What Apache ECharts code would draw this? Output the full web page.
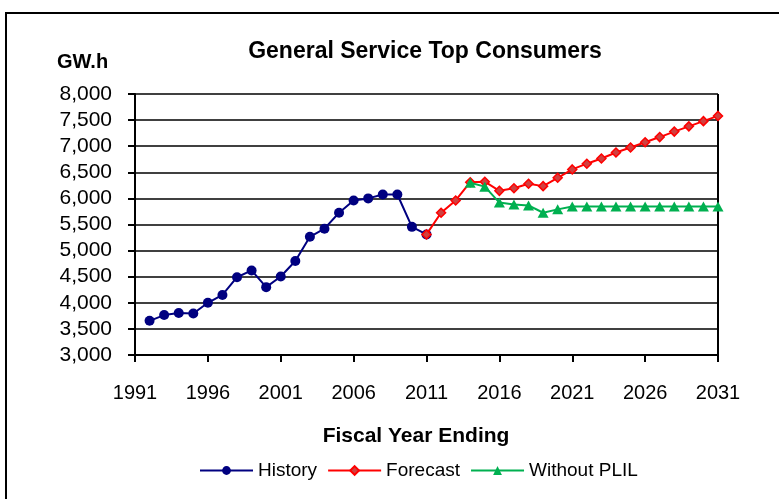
<!DOCTYPE html>
<html>
<head>
<meta charset="utf-8">
<script src="https://cdn.jsdelivr.net/npm/echarts@6/dist/echarts.min.js"></script>
<style>
html, body { margin: 0; padding: 0; background: #fff; overflow: hidden; }
#frame { position: absolute; left: 5px; top: 12px; width: 800px; height: 520px; border: 2px solid #000; box-sizing: border-box; }
#chart { position: absolute; left: 0; top: 0; width: 779px; height: 499px; }
</style>
</head>
<body>
<div id="frame"></div>
<div id="chart"></div>
<script>
// fiscal years on the x axis
const years = ['1991', '1992', '1993', '1994', '1995', '1996', '1997', '1998', '1999', '2000',
  '2001', '2002', '2003', '2004', '2005', '2006', '2007', '2008', '2009', '2010',
  '2011', '2012', '2013', '2014', '2015', '2016', '2017', '2018', '2019', '2020',
  '2021', '2022', '2023', '2024', '2025', '2026', '2027', '2028', '2029', '2030', '2031']

const historyYears = ['1992', '1993', '1994', '1995', '1996', '1997', '1998', '1999', '2000', '2001',
  '2002', '2003', '2004', '2005', '2006', '2007', '2008', '2009', '2010', '2011']
const historyValues = [3655, 3765, 3805, 3795, 4000, 4150, 4490, 4620, 4300, 4505,
  4800, 5265, 5420, 5725, 5960, 6000, 6075, 6075, 5455, 5310]

const forecastYears = ['2011', '2012', '2013', '2014', '2015', '2016', '2017', '2018', '2019', '2020',
  '2021', '2022', '2023', '2024', '2025', '2026', '2027', '2028', '2029', '2030', '2031']
const forecastValues = [5310, 5725, 5960, 6310, 6320, 6145, 6195, 6280, 6235, 6395,
  6555, 6665, 6765, 6880, 6975, 7075, 7175, 7280, 7380, 7480, 7580]

const plilYears = ['2014', '2015', '2016', '2017', '2018', '2019', '2020', '2021', '2022', '2023',
  '2024', '2025', '2026', '2027', '2028', '2029', '2030', '2031']
const plilValues = [6300, 6225, 5920, 5885, 5865, 5725, 5790, 5845, 5845, 5845,
  5845, 5845, 5845, 5845, 5845, 5845, 5845, 5845]

function pad (ys, vs) {
  const out = years.map(() => null)
  ys.forEach((y, i) => { out[years.indexOf(y)] = vs[i] })
  return out
}

const font = 'Liberation Sans, Arial, sans-serif'
const chart = echarts.init(document.getElementById('chart'))
chart.setOption({
  animation: false,
  title: [
    { text: 'General Service Top Consumers', left: 420, top: 35, textAlign: 'center',
      textStyle: { fontFamily: font, fontSize: 23, fontWeight: 'bold', color: '#000' } },
    { text: 'GW.h', left: 52, top: 47,
      textStyle: { fontFamily: font, fontSize: 20, fontWeight: 'bold', color: '#000' } },
    { text: 'Fiscal Year Ending', left: 411, top: 421, textAlign: 'center',
      textStyle: { fontFamily: font, fontSize: 21, fontWeight: 'bold', color: '#000' } }
  ],
  grid: { left: 135, right: 61, top: 94, bottom: 144 },
  legend: {
    top: 456,
    left: 194,
    itemWidth: 53,
    itemHeight: 11,
    itemGap: 10,
    textStyle: { fontFamily: font, fontSize: 19, color: '#000' },
    data: ['History', 'Forecast', 'Without PLIL']
  },
  xAxis: {
    type: 'category',
    data: years,
    boundaryGap: false,
    axisLine: { lineStyle: { color: '#000', width: 2 } },
    axisTick: { interval: 4, length: 7, lineStyle: { color: '#000', width: 2 } },
    axisLabel: { interval: 4, margin: 28, fontFamily: font, fontSize: 20, color: '#000' },
    splitLine: { show: false }
  },
  yAxis: {
    type: 'value',
    min: 3000,
    max: 8000,
    interval: 500,
    axisLine: { show: true, lineStyle: { color: '#000', width: 2 } },
    axisTick: { show: true, length: 7, lineStyle: { color: '#000', width: 2 } },
    axisLabel: { margin: 23, fontFamily: font, fontSize: 21, color: '#000',
      formatter: v => v.toLocaleString('en-US') },
    splitLine: { lineStyle: { color: '#000', width: 1.5 } }
  },
  graphic: [
    { type: 'line', shape: { x1: 718, y1: 94, x2: 718, y2: 355 }, style: { stroke: '#000', lineWidth: 2 } }
  ],
  series: [
    {
      name: 'History',
      type: 'line',
      data: pad(historyYears, historyValues),
      showSymbol: true,
      showAllSymbol: true,
      symbol: 'circle',
      symbolSize: 10,
      lineStyle: { color: '#000080', width: 2 },
      itemStyle: { color: '#000080' },
      z: 3
    },
    {
      name: 'Forecast',
      type: 'line',
      data: pad(forecastYears, forecastValues),
      showSymbol: true,
      showAllSymbol: true,
      symbol: 'diamond',
      symbolSize: 9,
      lineStyle: { color: '#ff0000', width: 2 },
      itemStyle: { color: '#d04040', borderColor: '#ff0000', borderWidth: 1.5 },
      z: 4
    },
    {
      name: 'Without PLIL',
      type: 'line',
      data: pad(plilYears, plilValues),
      showSymbol: true,
      showAllSymbol: true,
      symbol: 'triangle',
      symbolSize: [11, 10],
      lineStyle: { color: '#00b050', width: 2 },
      itemStyle: { color: '#00b050' },
      z: 5
    }
  ]
})
</script>
</body>
</html>
